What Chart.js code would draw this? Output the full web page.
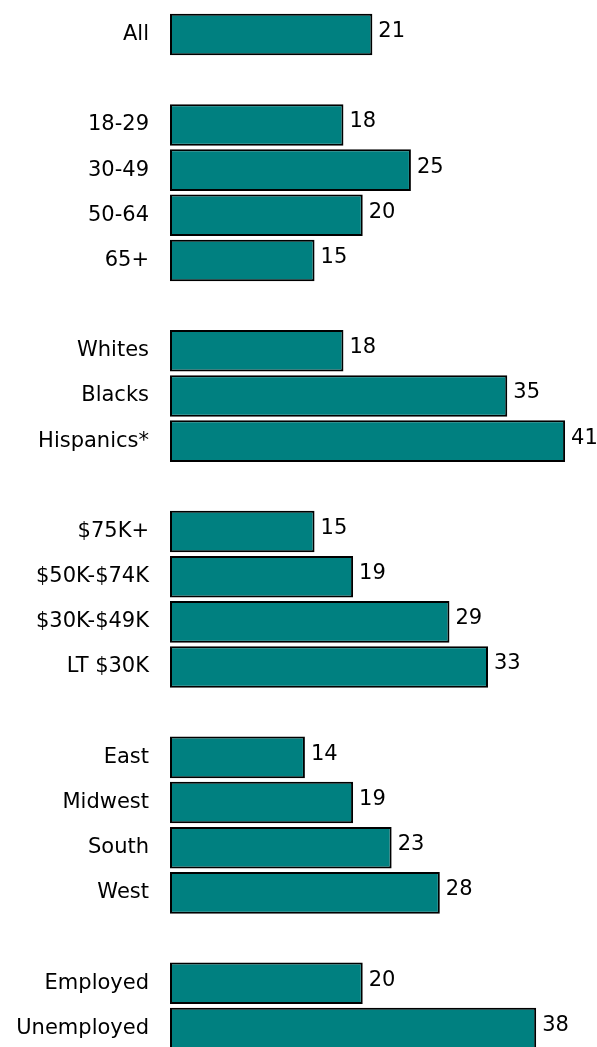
<!DOCTYPE html>
<html lang="en">
<head>
    <meta charset="UTF-8">
    <title>Groups</title>
    <script src="https://cdn.jsdelivr.net/npm/chart.js"></script>
    <style>
        html, body {
            margin: 0;
            padding: 0;
            background: #fff;
            overflow: hidden;
        }
        #chart {
            display: block;
        }
    </style>
</head>
<body>
    <canvas id="chart" width="597" height="1056"></canvas>

    <script>
        // categories, empty strings are the gaps between groups
        const categories = [
            'All', '',
            '18-29', '30-49', '50-64', '65+', '',
            'Whites', 'Blacks', 'Hispanics*', '',
            '$75K+', '$50K-$74K', '$30K-$49K', 'LT $30K', '',
            'East', 'Midwest', 'South', 'West', '',
            'Employed', 'Unemployed'
        ];
        const values = [
            21, null,
            18, 25, 20, 15, null,
            18, 35, 41, null,
            15, 19, 29, 33, null,
            14, 19, 23, 28, null,
            20, 38
        ];

        const FONT = 'DejaVu Sans';

        // draws the number just right of each bar
        const valueLabels = {
            id: 'valueLabels',
            afterDatasetsDraw(chart) {
                const ctx = chart.ctx;
                const meta = chart.getDatasetMeta(0);
                ctx.save();
                ctx.font = '21px "' + FONT + '"';
                ctx.fillStyle = '#000';
                ctx.textAlign = 'left';
                ctx.textBaseline = 'middle';
                meta.data.forEach((bar, i) => {
                    if (values[i] === null) return;
                    ctx.fillText(String(values[i]), bar.x + 6, bar.y - 3);
                });
                ctx.restore();
            }
        };

        new Chart(document.getElementById('chart'), {
            type: 'bar',
            data: {
                labels: categories,
                datasets: [{
                    data: values,
                    backgroundColor: '#008080',
                    borderColor: '#000',
                    borderWidth: 2,
                    borderSkipped: false,
                    barPercentage: 0.92,
                    categoryPercentage: 1
                }]
            },
            options: {
                indexAxis: 'y',
                responsive: false,
                animation: false,
                layout: {
                    padding: { top: 12, bottom: 5, right: 3, left: 0 }
                },
                plugins: {
                    legend: { display: false },
                    tooltip: { enabled: false }
                },
                scales: {
                    x: {
                        display: false,
                        min: 0,
                        max: 44
                    },
                    y: {
                        afterFit(scale) {
                            scale.width = 170;
                            scale.paddingTop = 0;
                            scale.paddingBottom = 0;
                        },
                        grid: { display: false, drawTicks: false },
                        border: { display: false },
                        ticks: {
                            autoSkip: false,
                            padding: 21,
                            color: '#000',
                            font: { family: FONT, size: 21 }
                        }
                    }
                }
            },
            plugins: [valueLabels]
        });
    </script>
</body>
</html>
